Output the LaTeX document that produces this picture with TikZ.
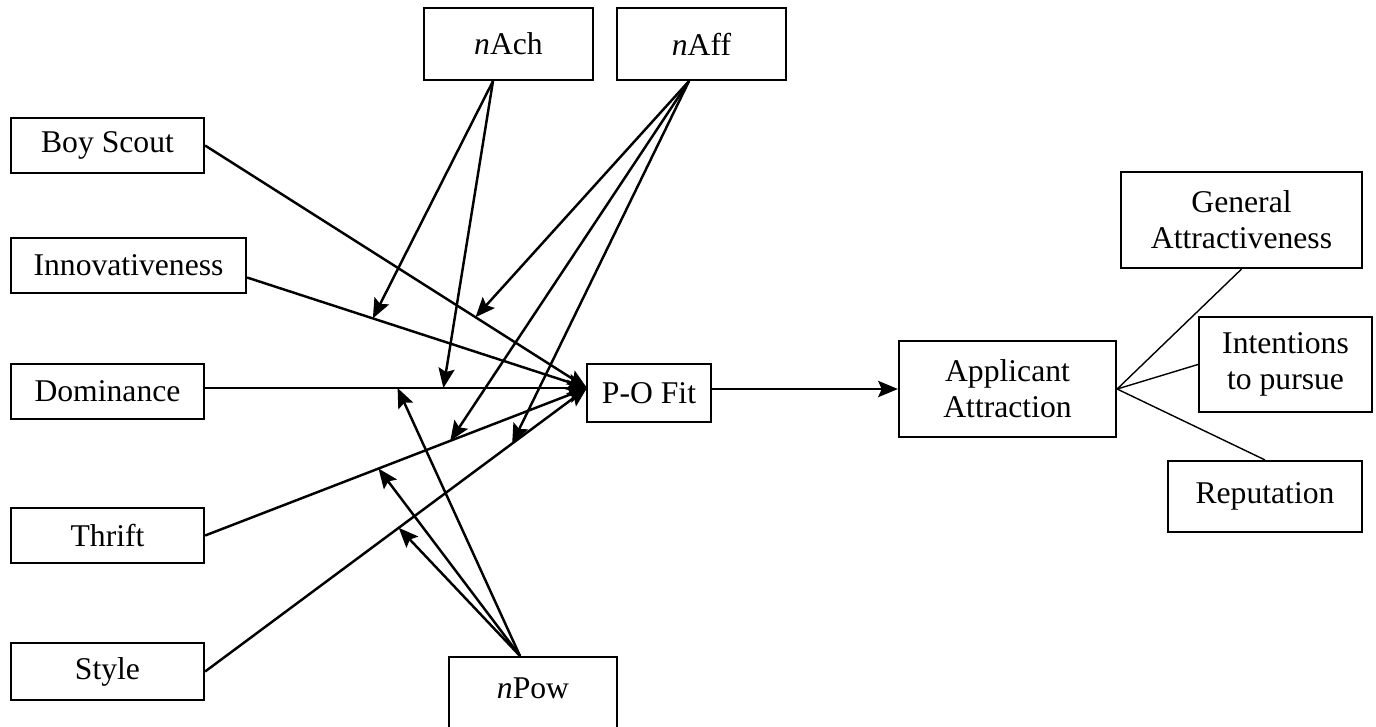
\documentclass[tikz,border=0pt]{standalone}
\usepackage{fontspec}
\setmainfont{Liberation Serif}
\usetikzlibrary{arrows.meta, calc}

\begin{document}
\begin{tikzpicture}[
x=0.01cm, y=-0.01cm,
box/.style = {draw, line width=0.6pt, inner sep=0pt, align=center, font=\fontsize{9}{10.3}\selectfont},
link/.style = {line width=0.7pt},
>={Stealth[length=5.6pt,width=4.6pt,inset=1pt]},
]
\useasboundingbox (0,0) rectangle (1376,726);

% predictors
\node (bscout) [box, minimum width=1.93cm, minimum height=0.55cm] at (107.5,145.5) {Boy Scout};
\node (innov) [box, minimum width=2.35cm, minimum height=0.55cm] at (128.5,265.5) {Innovativeness};
\node (domin) [box, minimum width=1.93cm, minimum height=0.55cm] at (107.5,391.5) {Dominance};
\node (thrift) [box, minimum width=1.93cm, minimum height=0.55cm] at (107.5,535.5) {Thrift};
\node (sty) [box, minimum width=1.93cm, minimum height=0.57cm] at (107.5,671.5) {Style};

% moderators
\node (nach) [box, minimum width=1.69cm, minimum height=0.72cm] at (508.5,44) {\textit{n}Ach};
\node (naff) [box, minimum width=1.69cm, minimum height=0.72cm] at (701.5,44) {\textit{n}Aff};
\node (npow) [box, minimum width=1.68cm, minimum height=0.8cm, text depth=0.18cm] at (533,697) {\textit{n}Pow};

% fit and outcomes
\node (pofit) [box, minimum width=1.24cm, minimum height=0.58cm] at (649,393) {P-O Fit};
\node (appl) [box, minimum width=2.17cm, minimum height=0.96cm] at (1007.5,389) {Applicant\\Attraction};
\node (genatt) [box, minimum width=2.41cm, minimum height=0.96cm] at (1241.5,220) {General\\Attractiveness};
\node (intent) [box, minimum width=1.73cm, minimum height=0.95cm] at (1285.5,364.5) {Intentions\\to pursue};
\node (reput) [box, minimum width=1.94cm, minimum height=0.71cm] at (1265,496.5) {Reputation};

\coordinate (pin) at (587,388);
\coordinate (nachout) at ($(nach.south)+(-15.5,0)$);
\coordinate (naffout) at ($(naff.south)+(-12.5,0)$);
\coordinate (npowout) at ($(npow.north)+(-13,0)$);

\draw[link,->] (bscout.east) -- coordinate[pos=0.708] (bsaff) (pin);
\draw[link,->] ([yshift=-0.12cm]innov.east) -- coordinate[pos=0.37] (inach) (pin);
\draw[link,->] (domin.east |- pin) -- coordinate[pos=0.504] (dopow) coordinate[pos=0.624] (doach) (pin);
\draw[link,->] (thrift.east) -- coordinate[pos=0.454] (thpow) coordinate[pos=0.642] (thaff) (pin);
\draw[link,->] (sty.east) -- coordinate[pos=0.507] (stpow) coordinate[pos=0.804] (staff) (pin);

\draw[link,->] (nachout) -- (inach);
\draw[link,->] (nachout) -- (doach);
\draw[link,->] (naffout) -- (bsaff);
\draw[link,->] (naffout) -- (thaff);
\draw[link,->] (naffout) -- (staff);
\draw[link,->] (npowout) -- (dopow);
\draw[link,->] (npowout) -- (thpow);
\draw[link,->] (npowout) -- (stpow);

\draw[link,->] (pofit.east |- appl.west) -- (appl.west);

\draw[line width=0.4pt] (appl.east) -- (genatt.south);
\draw[line width=0.4pt] (appl.east) -- (intent.west);
\draw[line width=0.4pt] (appl.east) -- (reput.north);

\end{tikzpicture}
\end{document}
